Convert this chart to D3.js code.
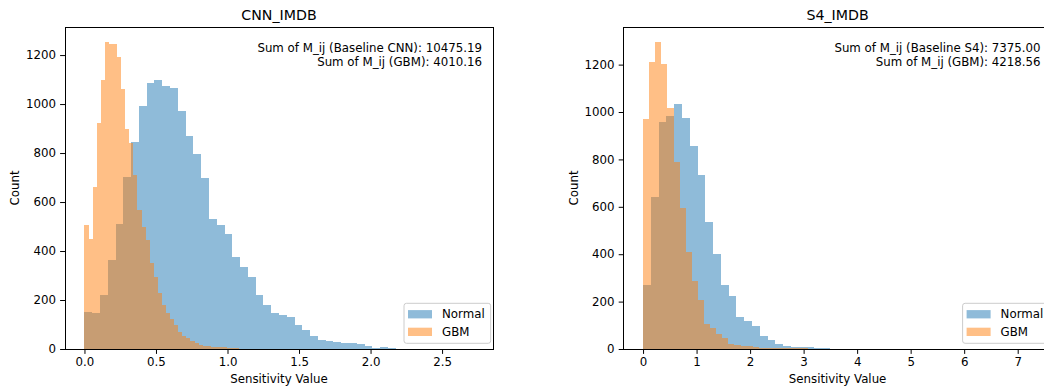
<!DOCTYPE html>
<html>
<head>
<meta charset="utf-8">
<script src="https://cdn.jsdelivr.net/npm/d3@7"></script>
<style>
  body { margin: 0; background: #fff; }
  svg { display: block; font-family: "DejaVu Sans", sans-serif; }
</style>
</head>
<body>
<svg id="chart" width="1044" height="387"></svg>
<script>
// histogram counts, 50 bins per series
const cnnNormalRange = [0, 2.72];
const cnnNormalCounts = [150, 148, 220, 363, 510, 703, 846, 992, 1088, 1100,
  1072, 1064, 973, 869, 797, 700, 529, 506, 468, 377,
  333, 294, 221, 178, 148, 140, 131, 100, 78, 53,
  37, 31, 27, 23, 26, 19, 12, 5, 8, 5,
  2, 1, 1, 0, 1, 0, 0, 0, 0, 1];

const cnnGbmRange = [0, 1.425];
const cnnGbmCounts = [506, 448, 660, 921, 1100, 1252, 1247, 1245, 1191, 1061,
  898, 842, 712, 566, 498, 445, 350, 293, 230, 180,
  149, 122, 99, 71, 55, 46, 32, 24, 18, 12,
  14, 8, 7, 9, 8, 5, 4, 3, 2, 2,
  1, 1, 1, 0, 1, 0, 0, 0, 0, 1];

const s4NormalRange = [0, 7.27];
const s4NormalCounts = [269, 640, 956, 985, 1033, 975, 858, 734, 536, 401,
  269, 223, 137, 120, 95, 54, 38, 21, 14, 10,
  8, 7, 6, 3, 2, 1, 1, 0, 1, 0,
  0, 0, 0, 0, 0, 0, 0, 0, 0, 0,
  0, 0, 0, 0, 0, 0, 0, 0, 0, 1];

const s4GbmRange = [0, 5.69];
const s4GbmCounts = [971, 1210, 1294, 1203, 1016, 789, 597, 410, 289, 206,
  105, 87, 64, 45, 23, 18, 14, 11, 9, 6,
  6, 6, 5, 4, 3, 3, 3, 2, 2, 1,
  1, 2, 1, 0, 0, 1, 0, 0, 0, 0,
  0, 0, 0, 0, 0, 0, 0, 0, 0, 1];

const seriesNames = ["Normal", "GBM"];
const seriesColors = ["#1f77b4", "#ff7f0e"];

const cnnXTicks = [0, 0.5, 1.0, 1.5, 2.0, 2.5];
const s4XTicks = [0, 1, 2, 3, 4, 5, 6, 7];
const yTicks = [0, 200, 400, 600, 800, 1000, 1200];

const cnnNotes = ["Sum of M_ij (Baseline CNN): 10475.19", "Sum of M_ij (GBM): 4010.16"];
const s4Notes = ["Sum of M_ij (Baseline S4): 7375.00", "Sum of M_ij (GBM): 4218.56"];

const svg = d3.select("#chart");
const fs = 11.8;

function drawPanel(p) {
  const top = 27, bottom = 349, w = 428;
  const left = p.left, right = left + w;

  const lo = d3.min(p.series, s => s.range[0]);
  const hi = d3.max(p.series, s => s.range[1]);
  const pad = (hi - lo) * 0.05;
  const x = d3.scaleLinear().domain([lo - pad, hi + pad]).range([left, right]);
  const ymax = d3.max(p.series, s => d3.max(s.counts));
  const y = d3.scaleLinear().domain([0, ymax * 1.05]).range([bottom, top]);

  const g = svg.append("g");

  p.series.forEach((s, si) => {
    const bw = (s.range[1] - s.range[0]) / s.counts.length;
    const bins = s.counts.map((c, i) => ({ x0: s.range[0] + i * bw, x1: s.range[0] + (i + 1) * bw, c }))
      .filter(d => d.c > 0);
    g.append("g").selectAll("rect").data(bins).join("rect")
      .attr("x", d => x(d.x0))
      .attr("width", d => x(d.x1) - x(d.x0))
      .attr("y", d => y(d.c))
      .attr("height", d => y(0) - y(d.c))
      .attr("fill", seriesColors[si])
      .attr("fill-opacity", 0.5)
      .attr("shape-rendering", "crispEdges");
  });

  // axes
  const xAxis = g.append("g").attr("transform", `translate(0,${bottom})`)
    .call(d3.axisBottom(x).tickValues(p.xTicks).tickFormat(p.xFormat).tickSize(4.9).tickPadding(4.1));
  const yAxis = g.append("g").attr("transform", `translate(${left},0)`)
    .call(d3.axisLeft(y).tickValues(yTicks).tickFormat(d3.format("d")).tickSize(4.9).tickPadding(4.1));
  [xAxis, yAxis].forEach(a => {
    a.select(".domain").remove();
    a.selectAll("line").attr("stroke", "#000").attr("stroke-width", 1);
    a.selectAll("text").attr("font-size", fs).attr("font-family", "DejaVu Sans").attr("fill", "#000");
  });

  // frame
  g.append("rect")
    .attr("x", left).attr("y", top).attr("width", w).attr("height", bottom - top)
    .attr("fill", "none").attr("stroke", "#000").attr("stroke-width", 1)
    .attr("shape-rendering", "crispEdges");

  g.append("text")
    .attr("x", (left + right) / 2).attr("y", 15).attr("dy", "0.35em")
    .attr("text-anchor", "middle").attr("font-size", 14.2)
    .text(p.title);

  g.append("text")
    .attr("x", (left + right) / 2).attr("y", 379).attr("dy", "0.35em")
    .attr("text-anchor", "middle").attr("font-size", fs)
    .text("Sensitivity Value");

  g.append("text")
    .attr("transform", `translate(${left - 50},${(top + bottom) / 2}) rotate(-90)`)
    .attr("dy", "0.35em")
    .attr("text-anchor", "middle").attr("font-size", fs)
    .text("Count");

  g.append("g").selectAll("text").data(p.notes).join("text")
    .attr("x", right - 11)
    .attr("y", (d, i) => 48 + i * 14.2)
    .attr("dy", "0.35em")
    .attr("text-anchor", "end").attr("font-size", fs)
    .text(d => d);

  // legend
  const lg = g.append("g").attr("transform", `translate(${right - 89},303.3)`);
  lg.append("rect")
    .attr("x", 0).attr("y", 0).attr("width", 86.7).attr("height", 40).attr("rx", 2.5)
    .attr("fill", "#fff").attr("fill-opacity", 0.8).attr("stroke", "#ccc").attr("stroke-width", 1);
  seriesNames.forEach((n, i) => {
    lg.append("rect")
      .attr("x", 4).attr("y", 6.8 + i * 17.6).attr("width", 24).attr("height", 8.3)
      .attr("fill", seriesColors[i]).attr("fill-opacity", 0.5);
    lg.append("text")
      .attr("x", 38).attr("y", 11 + i * 17.6).attr("dy", "0.35em")
      .attr("font-size", fs)
      .text(n);
  });
}

drawPanel({
  left: 65, title: "CNN_IMDB", notes: cnnNotes, xTicks: cnnXTicks, xFormat: d3.format(".1f"),
  series: [{ range: cnnNormalRange, counts: cnnNormalCounts }, { range: cnnGbmRange, counts: cnnGbmCounts }]
});
drawPanel({
  left: 623.6, title: "S4_IMDB", notes: s4Notes, xTicks: s4XTicks, xFormat: d3.format("d"),
  series: [{ range: s4NormalRange, counts: s4NormalCounts }, { range: s4GbmRange, counts: s4GbmCounts }]
});
</script>
</body>
</html>
